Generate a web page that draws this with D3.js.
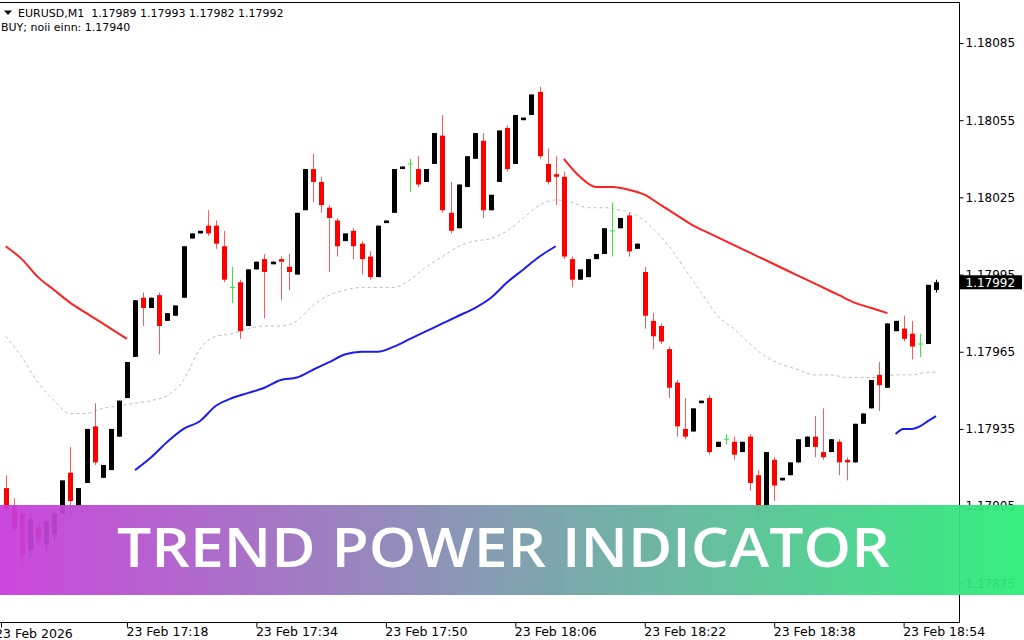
<!DOCTYPE html>
<meta charset="utf-8">
<style>
  body { margin: 0; background: #fff; }
  svg { display: block; font-family: "DejaVu Sans", Verdana, sans-serif; }
  .axis line { stroke: #000; }
  .axis text { fill: #000; }
  .axis path { display: none; }
</style>
<body></body>
<script src="https://cdn.jsdelivr.net/npm/d3@7"></script>
<script>
  // EURUSD M1, 17:03 .. 18:58, one value per bar
  const opens = [
    1.17912,1.17905,1.17902,1.17888,1.17897,1.17890,1.17894,1.17902,1.17918,1.17905,
    1.17914,1.17936,1.17916,1.17919,1.17932,1.17947,1.17963,1.17986,1.17982,1.17987,
    1.17977,1.17979,1.17986,1.18009,1.18011,1.18014,1.18014,1.18006,1.17990,1.17992,
    1.17975,1.17997,1.18001,1.17999,1.18001,1.17998,1.17995,1.18020,1.18036,1.18031,
    1.18021,1.18016,1.18008,1.18012,1.18007,1.18002,1.17994,1.18015,1.18019,1.18036,
    1.18038,1.18036,1.18031,1.18038,1.18049,1.18019,1.18013,1.18029,1.18040,1.18047,
    1.18020,1.18031,1.18052,1.18038,1.18055,1.18057,1.18066,1.18038,1.18034,1.18033,
    1.18001,1.17993,1.17994,1.18001,1.18003,1.18012,1.18013,1.18018,1.18005,1.17996,
    1.17977,1.17975,1.17966,1.17953,1.17935,1.17934,1.17945,1.17947,1.17928,1.17931,
    1.17930,1.17926,1.17932,1.17917,1.17905,1.17923,1.17915,1.17917,1.17922,1.17928,
    1.17932,1.17926,1.17926,1.17930,1.17923,1.17922,1.17937,1.17943,1.17956,1.17951,
    1.17973,1.17974,1.17972,1.17968,1.17968,1.17989
  ];
  const highs = [
    1.17917,1.17908,1.17903,1.17902,1.17899,1.17900,1.17903,1.17915,1.17928,1.17912,
    1.17935,1.17945,1.17921,1.17935,1.17946,1.17961,1.17985,1.17988,1.17986,1.17988,
    1.17980,1.17983,1.18006,1.18011,1.18012,1.18020,1.18016,1.18012,1.17998,1.17993,
    1.17997,1.18000,1.18003,1.18000,1.18002,1.18003,1.18019,1.18036,1.18042,1.18033,
    1.18022,1.18017,1.18011,1.18013,1.18008,1.18004,1.18014,1.18016,1.18036,1.18037,
    1.18040,1.18041,1.18036,1.18050,1.18057,1.18031,1.18030,1.18041,1.18050,1.18050,
    1.18026,1.18051,1.18053,1.18057,1.18056,1.18065,1.18068,1.18044,1.18041,1.18035,
    1.18002,1.17997,1.18001,1.18003,1.18013,1.18023,1.18017,1.18019,1.18007,1.17998,
    1.17980,1.17976,1.17967,1.17954,1.17947,1.17943,1.17946,1.17948,1.17930,1.17933,
    1.17932,1.17930,1.17933,1.17919,1.17926,1.17924,1.17916,1.17922,1.17931,1.17932,
    1.17940,1.17943,1.17931,1.17931,1.17924,1.17937,1.17941,1.17954,1.17961,1.17976,
    1.17977,1.17979,1.17977,1.17972,1.17991,1.17993
  ];
  const lows = [
    1.17902,1.17892,1.17881,1.17885,1.17890,1.17887,1.17892,1.17902,1.17902,1.17905,
    1.17914,1.17921,1.17916,1.17919,1.17932,1.17947,1.17963,1.17975,1.17982,1.17964,
    1.17977,1.17979,1.17986,1.18009,1.18011,1.18010,1.18005,1.17992,1.17984,1.17970,
    1.17975,1.17997,1.17978,1.17999,1.17985,1.17989,1.17995,1.18020,1.18023,1.18019,
    1.17996,1.18002,1.18008,1.18001,1.17995,1.17993,1.17994,1.18015,1.18019,1.18036,
    1.18027,1.18029,1.18031,1.18038,1.18019,1.18011,1.18013,1.18029,1.18040,1.18017,
    1.18020,1.18031,1.18035,1.18038,1.18055,1.18057,1.18040,1.18030,1.18022,1.18001,
    1.17990,1.17993,1.17994,1.18001,1.18003,1.18002,1.18013,1.18002,1.18005,1.17974,
    1.17966,1.17968,1.17947,1.17932,1.17931,1.17934,1.17945,1.17925,1.17928,1.17929,
    1.17923,1.17926,1.17911,1.17900,1.17904,1.17907,1.17915,1.17917,1.17922,1.17928,
    1.17924,1.17923,1.17926,1.17917,1.17915,1.17922,1.17937,1.17943,1.17942,1.17951,
    1.17973,1.17969,1.17962,1.17963,1.17968,1.17988
  ];
  const closes = [
    1.17904,1.17896,1.17886,1.17900,1.17892,1.17899,1.17902,1.17915,1.17907,1.17912,
    1.17935,1.17922,1.17921,1.17935,1.17946,1.17961,1.17985,1.17982,1.17986,1.17975,
    1.17980,1.17983,1.18006,1.18011,1.18012,1.18011,1.18007,1.17993,1.17990,1.17973,
    1.17997,1.18000,1.17996,1.18000,1.18000,1.17996,1.18019,1.18036,1.18031,1.18022,
    1.18017,1.18006,1.18011,1.18006,1.18001,1.17994,1.18014,1.18016,1.18036,1.18037,
    1.18038,1.18030,1.18036,1.18050,1.18020,1.18012,1.18030,1.18041,1.18050,1.18020,
    1.18026,1.18051,1.18036,1.18057,1.18056,1.18065,1.18041,1.18031,1.18033,1.18002,
    1.17993,1.17997,1.18001,1.18003,1.18013,1.18012,1.18017,1.18004,1.18007,1.17979,
    1.17971,1.17969,1.17951,1.17936,1.17932,1.17943,1.17946,1.17926,1.17930,1.17931,
    1.17925,1.17930,1.17914,1.17905,1.17926,1.17913,1.17916,1.17922,1.17931,1.17932,
    1.17928,1.17924,1.17931,1.17922,1.17922,1.17937,1.17941,1.17954,1.17952,1.17976,
    1.17977,1.17970,1.17967,1.17968,1.17991,1.17992
  ];

  // indicator lines: [bar index, price]
  const redLine1 = [[0,1.18006],[2,1.18001],[4,1.17994],[6,1.17989],[8,1.17984],[10,1.17980],[12,1.17976],[14,1.17972],[15,1.17970]];
  const redLine2 = [[69,1.18040],[71,1.18033],[73,1.18029],[75,1.18029],[77,1.18028],[79,1.18026],[81,1.18022],[83,1.18018],[85,1.18014],[87,1.18011],[89,1.18008],[91,1.18005],[93,1.18002],[95,1.17999],[97,1.17996],[99,1.17993],[101,1.17990],[103,1.17987],[105,1.17984],[107,1.17982],[109,1.17980]];
  const blueLine1 = [[16,1.17919],[18,1.17924],[20,1.17930],[22,1.17935],[24,1.17938],[26,1.17944],[28,1.17947],[30,1.17949],[32,1.17951],[34,1.17954],[36,1.17955],[38,1.17958],[40,1.17961],[42,1.17964],[44,1.17965],[46,1.17965],[48,1.17967],[50,1.17970],[52,1.17973],[54,1.17976],[56,1.17979],[58,1.17982],[60,1.17986],[62,1.17992],[64,1.17997],[66,1.18002],[68,1.18006]];
  const blueLine2 = [[110,1.17933],[111,1.17935],[112,1.17935],[113,1.17936],[114,1.17938],[115,1.17940]];
  const midLine = [[0,1.17971],[2,1.17963],[4,1.17953],[6,1.17946],[8,1.17941],[10,1.17941],[12,1.17943],[14,1.17944],[16,1.17945],[18,1.17946],[20,1.17948],[22,1.17954],[24,1.17966],[26,1.17971],[28,1.17972],[30,1.17974],[32,1.17975],[34,1.17975],[36,1.17977],[38,1.17983],[40,1.17987],[42,1.17989],[44,1.17990],[46,1.17990],[48,1.17990],[50,1.17993],[52,1.17998],[54,1.18002],[56,1.18006],[58,1.18008],[60,1.18009],[62,1.18012],[64,1.18017],[66,1.18022],[68,1.18024],[70,1.18023],[72,1.18021],[74,1.18021],[76,1.18020],[78,1.18018],[80,1.18013],[82,1.18006],[84,1.17997],[86,1.17988],[88,1.17979],[90,1.17974],[92,1.17968],[94,1.17963],[96,1.17960],[98,1.17958],[100,1.17956],[102,1.17956],[104,1.17955],[106,1.17955],[108,1.17955],[110,1.17956],[112,1.17956],[114,1.17957],[115,1.17957]];

  const priceTicks = [1.18085, 1.18055, 1.18025, 1.17995, 1.17965, 1.17935, 1.17905, 1.17875];
  const timeTickIdx = [15, 31, 47, 63, 79, 95, 111];
  const timeLabels = ['23 Feb 17:18', '23 Feb 17:34', '23 Feb 17:50', '23 Feb 18:06', '23 Feb 18:22', '23 Feb 18:38', '23 Feb 18:54'];
  const firstLabel = '23 Feb 2026';
  const header = ['EURUSD,M1', '1.17989', '1.17993', '1.17982', '1.17992'];
  const signal = 'BUY; noii einn: 1.17940';
  const lastPrice = 1.17992;
  const title = 'TREND POWER INDICATOR';

  const W = 1024, H = 640;
  const frameR = 959.5, frameT = 2.5, frameB = 622.5;

  const svg = d3.select('body').append('svg')
    .attr('width', W).attr('height', H);

  const x = d3.scaleLinear().domain([0, 115]).range([5.6, 936]);
  const y = d3.scaleLinear().domain([1.18085, 1.17875]).range([43, 583.3]);

  const plot = svg.append('g');

  // indicator lines
  const line = d3.line().x(d => x(d[0])).y(d => y(d[1])).curve(d3.curveMonotoneX);
  plot.append('path').datum(midLine)
    .attr('d', line).attr('fill', 'none')
    .attr('stroke', '#bdbdbd').attr('stroke-width', 1).attr('stroke-dasharray', '3,3');
  [redLine1, redLine2].forEach(s => plot.append('path').datum(s)
    .attr('d', line).attr('fill', 'none').attr('stroke', '#ff2020').attr('stroke-width', 2));
  [blueLine1, blueLine2].forEach(s => plot.append('path').datum(s)
    .attr('d', line).attr('fill', 'none').attr('stroke', '#1c1cf0').attr('stroke-width', 2));

  // candles
  const bars = opens.map((o, i) => ({i, o, h: highs[i], l: lows[i], c: closes[i]}));
  const kind = d => d.c > d.o ? 'up' : d.c < d.o ? 'down' : 'doji';
  const wickCol = {up: '#000', down: '#ff5a5a', doji: '#40e040'};
  const bodyCol = {up: '#000', down: '#ff0000', doji: '#40e040'};

  const cg = plot.append('g').selectAll('g').data(bars).join('g');
  cg.append('line')
    .attr('x1', d => Math.round(x(d.i)) + 0.5).attr('x2', d => Math.round(x(d.i)) + 0.5)
    .attr('y1', d => y(d.h)).attr('y2', d => y(d.l))
    .attr('stroke', d => wickCol[kind(d)]).attr('stroke-width', 1);
  cg.append('rect')
    .attr('x', d => Math.round(x(d.i)) - 2).attr('width', 5)
    .attr('y', d => kind(d) === 'doji' ? y(d.c) - 0.5 : y(Math.max(d.o, d.c)))
    .attr('height', d => Math.max(1, Math.abs(y(d.o) - y(d.c))))
    .attr('fill', d => bodyCol[kind(d)]);

  // frame
  svg.append('path')
    .attr('d', `M0,${frameT}H${frameR}V${frameB}H0`)
    .attr('fill', 'none').attr('stroke', '#000').attr('stroke-width', 1);

  // price axis
  svg.append('g').attr('class', 'axis')
    .attr('transform', `translate(${frameR},0)`)
    .call(d3.axisRight(y).tickValues(priceTicks).tickSize(4).tickPadding(2)
      .tickFormat(d3.format('.5f')))
    .call(g => g.selectAll('text').attr('font-size', 12).attr('font-family', '"DejaVu Sans", Verdana, sans-serif'));

  // time axis
  svg.append('g').attr('class', 'axis')
    .attr('transform', `translate(0,${frameB})`)
    .call(d3.axisBottom(x).tickValues(timeTickIdx).tickSize(5).tickPadding(0)
      .tickFormat((d, i) => timeLabels[i]))
    .call(g => g.selectAll('text').attr('text-anchor', 'start').attr('x', -1)
      .attr('font-size', 12.5).attr('font-family', '"DejaVu Sans", Verdana, sans-serif'));
  svg.append('line').attr('x1', 1.5).attr('x2', 1.5)
    .attr('y1', frameB).attr('y2', frameB + 5).attr('stroke', '#000');
  svg.append('text').attr('x', -5).attr('y', 638).attr('font-size', 12.5).text(firstLabel);

  // current price marker
  svg.append('rect').attr('x', frameR + 0.5).attr('y', y(lastPrice) - 7)
    .attr('width', 62).attr('height', 14).attr('fill', '#000');
  svg.append('text').attr('x', frameR + 6).attr('y', y(lastPrice)).attr('dy', '0.36em')
    .attr('font-size', 12).attr('fill', '#fff').text(d3.format('.5f')(lastPrice));

  // header
  svg.append('path').attr('d', 'M4,10.5H12L8,15Z').attr('fill', '#000');
  svg.append('text').attr('x', 18).attr('y', 17).attr('font-size', 11)
    .attr('xml:space', 'preserve').text(header[0] + '  ' + header.slice(1).join(' '));
  svg.append('text').attr('x', 1).attr('y', 31).attr('font-size', 11).text(signal);

  // banner
  const grad = svg.append('defs').append('linearGradient').attr('id', 'band');
  [[0, '#c93bdb'], [0.5, '#7b9aac'], [1, '#2bee78']].forEach(([o, c]) =>
    grad.append('stop').attr('offset', o).attr('stop-color', c));
  svg.append('rect').attr('x', 0).attr('y', 505).attr('width', W).attr('height', 90)
    .attr('fill', 'url(#band)').attr('opacity', 0.94);
  svg.append('text').attr('x', 503.5).attr('y', 566.5)
    .attr('text-anchor', 'middle')
    .attr('font-family', '"Open Sans", "Noto Sans", sans-serif')
    .attr('font-weight', 600).attr('font-size', 54).attr('fill', '#fff')
    .attr('textLength', 773).attr('lengthAdjust', 'spacingAndGlyphs')
    .text(title);
</script>
